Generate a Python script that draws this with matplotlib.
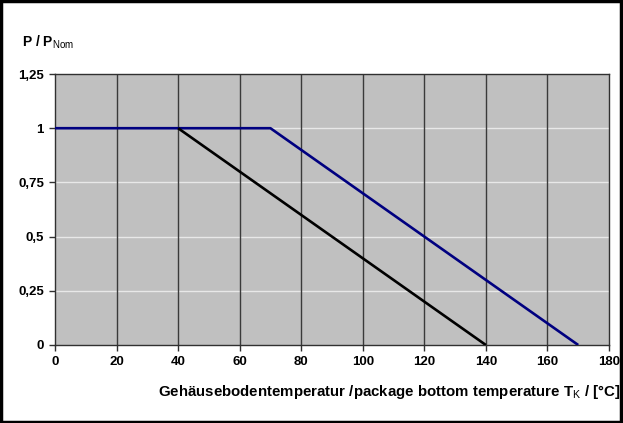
import matplotlib
matplotlib.use("Agg")
import matplotlib.pyplot as plt
from matplotlib.patches import Rectangle

# derating curves: P/P_Nom over package bottom temperature
temp_blue = [0, 70, 170]
power_blue = [1, 1, 0]
temp_black = [40, 140]
power_black = [1, 0]

x_ticks = [0, 20, 40, 60, 80, 100, 120, 140, 160, 180]
y_ticks = [0, 0.25, 0.5, 0.75, 1, 1.25]
y_tick_labels = ["0", "0,25", "0,5", "0,75", "1", "1,25"]

FONT = ["Liberation Sans", "DejaVu Sans"]
plt.rcParams["font.family"] = FONT
plt.rcParams["mathtext.fontset"] = "custom"
plt.rcParams["mathtext.rm"] = "Liberation Sans"

fig = plt.figure(figsize=(6.23, 4.23), dpi=100)
ax = fig.add_axes([0.0883, 0.1844, 0.8892, 0.6406])
ax.set_facecolor("#c0c0c0")

# grid: light horizontal, dark vertical
for y in y_ticks[1:-1]:
    ax.axhline(y, color="#e8e8e8", lw=1.0, zorder=1)
for x in x_ticks[1:-1]:
    ax.axvline(x, color="#3a3a3a", lw=1.0, zorder=1)

ax.plot(temp_blue, power_blue, color="#000080", lw=1.9, zorder=3, solid_capstyle="butt")
ax.plot(temp_black, power_black, color="#000000", lw=1.9, zorder=4, solid_capstyle="butt")

ax.set_xlim(0, 180)
ax.set_ylim(0, 1.25)
ax.set_xticks(x_ticks)
ax.set_yticks(y_ticks)
ax.set_yticklabels(y_tick_labels)
for sp in ax.spines.values():
    sp.set_color("#303030")
    sp.set_linewidth(1.0)
ax.tick_params(direction="out", length=4, width=1, color="#303030", labelsize=9.5, pad=4)
for lab in ax.get_xticklabels() + ax.get_yticklabels():
    lab.set_fontweight("bold")

fig.text(22 / 623, 1 - 47 / 423, r"P / P$_{\mathrm{Nom}}$", fontsize=10,
         fontweight="bold", ha="left", va="baseline")
fig.text(620 / 623, 1 - 396 / 423,
         r"Gehäusebodentemperatur /package bottom temperature T$_{\mathrm{K}}$ / [°C]",
         fontsize=10.8, fontweight="bold", ha="right", va="baseline")

# outer frame
fig.patches.append(Rectangle((0.002, 0.003), 0.995, 0.994, transform=fig.transFigure,
                             fill=False, edgecolor="black", lw=2.5))

fig.savefig("out.png", dpi=100)
